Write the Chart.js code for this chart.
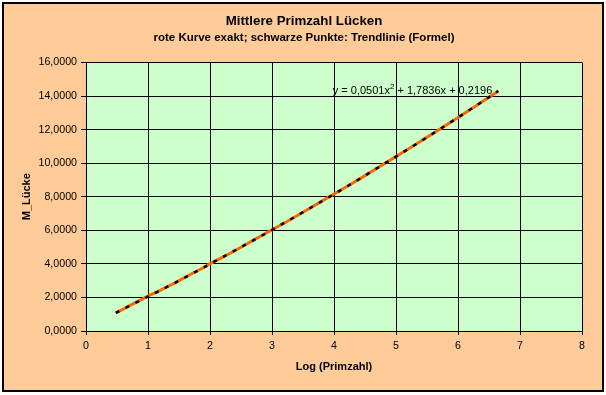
<!DOCTYPE html>
<html>
<head>
<meta charset="utf-8">
<script src="https://cdn.jsdelivr.net/npm/chart.js@4/dist/chart.umd.min.js"></script>
<style>
  html, body { margin: 0; padding: 0; background: #ffffff; }
  #wrap { width: 606px; height: 395px; position: relative; }
</style>
</head>
<body>
<div id="wrap"><canvas id="c" width="606" height="395"></canvas></div>
<script>
// ---- data ----
const titleText = "Mittlere Primzahl Lücken";
const subtitleText = "rote Kurve exakt; schwarze Punkte: Trendlinie (Formel)";
const xAxisTitle = "Log (Primzahl)";
const yAxisTitle = "M_Lücke";
const trendLabel = ["y = 0,0501x", "2", " + 1,7836x + 0,2196"];

// exact curve (orange): log10(prime) vs mean gap
const exactX = [0.48, 0.6, 0.75, 0.9, 1.0, 1.15, 1.3, 1.45, 1.6, 1.75,
                1.9, 2.0, 2.2, 2.4, 2.6, 2.8, 3.0, 3.25, 3.5, 3.75,
                4.0, 4.25, 4.5, 4.75, 5.0, 5.25, 5.5, 5.75, 6.0, 6.25,
                6.5, 6.65];
const exactY = [1.08, 1.30, 1.60, 1.88, 2.10, 2.33, 2.62, 2.90, 3.20, 3.50,
                3.78, 4.02, 4.39, 4.78, 5.20, 5.62, 6.03, 6.54, 7.08, 7.62,
                8.16, 8.70, 9.26, 9.83, 10.40, 10.96, 11.55, 12.13, 12.72, 13.32,
                13.93, 14.30];

// trendline (black dashes)
const trendX = [0.48, 1.0, 1.5, 2.0, 2.5, 3.0, 3.5, 4.0, 4.5, 5.0, 5.5, 6.0, 6.65];
const trendY = [1.08, 2.05, 2.99, 3.99, 5.00, 6.02, 7.08, 8.15, 9.26, 10.39, 11.54, 12.72, 14.30];

// axis ranges / ticks
const xMin = 0, xMax = 8, xStep = 1;
const yMin = 0, yMax = 16, yStep = 2;
const trendLabelAt = { x: 3.98, y: 14.3 };

// ---- build ----
const exactPts = exactX.map((x, i) => ({ x: x, y: exactY[i] }));
const trendPts = trendX.map((x, i) => ({ x: x, y: trendY[i] }));

const FONT = "'Liberation Sans', Arial, sans-serif";

const decor = {
  id: 'decor',
  beforeDraw(chart) {
    const ctx = chart.ctx;
    const a = chart.chartArea;
    ctx.save();
    ctx.fillStyle = '#ffffff';
    ctx.fillRect(0, 0, chart.width, chart.height);
    ctx.fillStyle = '#FFCC99';
    ctx.fillRect(3, 3, 600, 388);
    ctx.strokeStyle = '#000000';
    ctx.lineWidth = 2;
    ctx.strokeRect(3, 3, 600, 388);
    ctx.fillStyle = '#CCFFCC';
    ctx.fillRect(a.left, a.top, a.right - a.left, a.bottom - a.top);
    // titles
    ctx.fillStyle = '#000000';
    ctx.textAlign = 'center';
    ctx.textBaseline = 'middle';
    ctx.font = "bold 13.3px " + FONT;
    ctx.fillText(titleText, 304, 21);
    ctx.font = "bold 11.5px " + FONT;
    ctx.fillText(subtitleText, 304, 38);
    ctx.font = "bold 11px " + FONT;
    ctx.fillText(xAxisTitle, (a.left + a.right) / 2, 367);
    ctx.save();
    ctx.translate(27, (a.top + a.bottom) / 2);
    ctx.rotate(-Math.PI / 2);
    ctx.fillText(yAxisTitle, 0, 0);
    ctx.restore();
    ctx.restore();
  },
  beforeDatasetsDraw(chart) {
    const ctx = chart.ctx;
    const xs = chart.scales.x, ys = chart.scales.y;
    let px = xs.getPixelForValue(trendLabelAt.x);
    const py = ys.getPixelForValue(trendLabelAt.y);
    ctx.save();
    ctx.fillStyle = '#000000';
    ctx.textAlign = 'left';
    ctx.textBaseline = 'middle';
    ctx.font = "11px " + FONT;
    ctx.fillText(trendLabel[0], px, py);
    px += ctx.measureText(trendLabel[0]).width;
    ctx.font = "8px " + FONT;
    ctx.fillText(trendLabel[1], px, py - 4);
    px += ctx.measureText(trendLabel[1]).width;
    ctx.font = "11px " + FONT;
    ctx.fillText(trendLabel[2], px, py);
    ctx.restore();
  }
};

new Chart(document.getElementById('c'), {
  type: 'scatter',
  data: {
    datasets: [
      {
        label: 'Trendlinie',
        data: trendPts,
        showLine: true,
        borderColor: '#000000',
        borderWidth: 2.5,
        borderDash: [4, 7],
        pointRadius: 0,
        tension: 0,
        fill: false
      },
      {
        label: 'exakt',
        data: exactPts,
        showLine: true,
        borderColor: '#FF6600',
        borderWidth: 3,
        pointRadius: 0,
        tension: 0,
        fill: false
      }
    ]
  },
  options: {
    responsive: false,
    animation: false,
    devicePixelRatio: 1,
    layout: { padding: { top: 62.5, right: 24, left: 0, bottom: 0 } },
    plugins: { legend: { display: false }, tooltip: { enabled: false }, title: { display: false } },
    scales: {
      x: {
        type: 'linear',
        min: xMin, max: xMax,
        afterFit(scale) { scale.height = 64; },
        ticks: {
          stepSize: xStep,
          color: '#000000',
          font: { family: FONT, size: 10.67 },
          padding: 5,
          maxRotation: 0
        },
        grid: { color: '#000000', lineWidth: 1, tickLength: 4, drawOnChartArea: true },
        border: { color: '#000000', width: 1 }
      },
      y: {
        type: 'linear',
        min: yMin, max: yMax,
        afterFit(scale) { scale.width = 86; },
        ticks: {
          stepSize: yStep,
          color: '#000000',
          font: { family: FONT, size: 10.67 },
          padding: 4,
          callback: (v) => v.toFixed(4).replace('.', ',')
        },
        grid: { color: '#000000', lineWidth: 1, tickLength: 5, drawOnChartArea: true },
        border: { color: '#000000', width: 1 }
      }
    }
  },
  plugins: [decor]
});
</script>
</body>
</html>
